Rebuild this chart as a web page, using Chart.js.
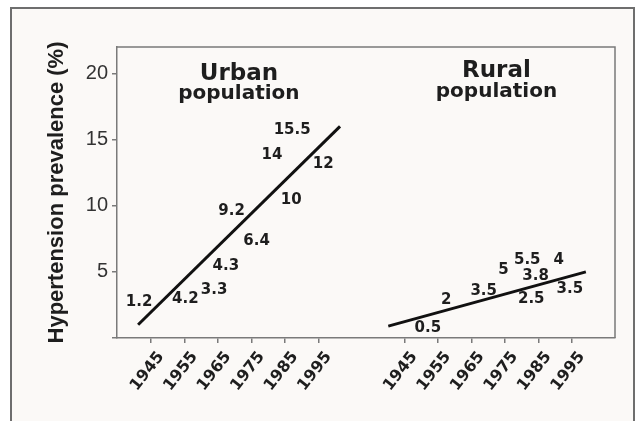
<!DOCTYPE html>
<html>
<head>
<meta charset="utf-8">
<script src="https://cdn.jsdelivr.net/npm/chart.js@4/dist/chart.umd.min.js"></script>
<style>
  html, body { margin: 0; padding: 0; background: #ffffff; }
  #frame {
    position: absolute; left: 10px; top: 7px; width: 625px; height: 420px;
    box-sizing: border-box; background: #fbf9f7;
    border: 2px solid #6e6e6e; border-bottom: none;
  }
  #wrap { position: absolute; left: 0; top: 0; width: 635px; height: 421px; }
</style>
</head>
<body>
<div id="frame"></div>
<div id="wrap"><canvas id="chart" width="635" height="421"></canvas></div>
<script>
const years = [1945, 1955, 1965, 1975, 1985, 1995];
const ruralShift = 75.6; // rural panel sits right of the urban one on the shared x axis
const xMin = 1934.8;
const xMax = 2083.5;
const yTicks = [0, 5, 10, 15, 20];

// printed rates and where each sits (study year, height in %)
const urbanYears = [1941.4, 1955.2, 1963.8, 1967.3, 1976.5, 1969, 1986.8, 1981.1, 1987.1, 1996.4];
const urbanHeights = [2.75, 2.95, 3.6, 5.4, 7.3, 9.6, 10.45, 13.8, 15.7, 13.15];
const urbanRates = ['1.2', '4.2', '3.3', '4.3', '6.4', '9.2', '10', '14', '15.5', '12'];

const ruralYears = [1952, 1957.5, 1968.7, 1974.6, 1981.7, 1991.1, 1984.2, 1982.9, 1994.4];
const ruralHeights = [0.73, 2.83, 3.58, 5.15, 5.9, 5.86, 4.7, 2.93, 3.69];
const ruralRates = ['0.5', '2', '3.5', '5', '5.5', '4', '3.8', '2.5', '3.5'];

const urbanTrendYears = [1941.1, 2001.4];
const urbanTrend = [1.0, 16.0];
const ruralTrendYears = [1940.2, 1999.2];
const ruralTrend = [0.9, 5.0];

const ink = '#1e1e1e';
const axisGrey = '#7a7a7a';

function pts(xs, ys, shift) {
  return xs.map((x, i) => ({ x: x + shift, y: ys[i] }));
}

const tickLabels = {};
years.forEach((y) => {
  tickLabels[y] = String(y);
  tickLabels[(y + ruralShift).toFixed(1)] = String(y);
});

const rateLabels = {
  id: 'rateLabels',
  afterDatasetsDraw(chart) {
    const ctx = chart.ctx;
    ctx.save();
    ctx.fillStyle = ink;
    ctx.font = 'bold 15px "DejaVu Sans"';
    ctx.textAlign = 'center';
    ctx.textBaseline = 'middle';
    chart.data.datasets.forEach((ds, i) => {
      if (!ds.texts) return;
      chart.getDatasetMeta(i).data.forEach((el, j) => {
        ctx.fillText(ds.texts[j], el.x, el.y);
      });
    });
    ctx.restore();
  }
};

const panelBox = {
  id: 'panelBox',
  beforeDatasetsDraw(chart) {
    const { ctx, chartArea: a, scales } = chart;
    ctx.save();
    ctx.strokeStyle = axisGrey;
    ctx.lineWidth = 1.5;
    ctx.beginPath();
    ctx.moveTo(a.left, a.top);
    ctx.lineTo(a.right, a.top);
    ctx.lineTo(a.right, a.bottom);
    ctx.stroke();

    // panel headings
    ctx.fillStyle = ink;
    ctx.textAlign = 'center';
    ctx.textBaseline = 'alphabetic';
    const ux = scales.x.getPixelForValue(1971.2);
    const rx = scales.x.getPixelForValue(1972.5 + ruralShift);
    ctx.font = 'bold 23px "DejaVu Sans"';
    ctx.fillText('Urban', ux, a.top + 33);
    ctx.fillText('Rural', rx, a.top + 30);
    ctx.font = 'bold 20px "DejaVu Sans"';
    ctx.fillText('population', ux, a.top + 52);
    ctx.fillText('population', rx, a.top + 50);
    ctx.restore();
  }
};

new Chart(document.getElementById('chart'), {
  type: 'scatter',
  data: {
    datasets: [
      { data: pts(urbanYears, urbanHeights, 0), texts: urbanRates, pointRadius: 0 },
      { data: pts(ruralYears, ruralHeights, ruralShift), texts: ruralRates, pointRadius: 0 },
      { data: pts(urbanTrendYears, urbanTrend, 0), showLine: true, borderColor: '#111', borderWidth: 3, pointRadius: 0 },
      { data: pts(ruralTrendYears, ruralTrend, ruralShift), showLine: true, borderColor: '#111', borderWidth: 3, pointRadius: 0 }
    ]
  },
  options: {
    responsive: false,
    animation: false,
    layout: { padding: { top: 47, right: 20, left: 0, bottom: 0 } },
    plugins: { legend: { display: false }, tooltip: { enabled: false } },
    scales: {
      x: {
        type: 'linear',
        min: xMin,
        max: xMax,
        afterBuildTicks: (s) => {
          s.ticks = years.map((y) => ({ value: y }))
            .concat(years.map((y) => ({ value: +(y + ruralShift).toFixed(1) })));
        },
        afterFit: (s) => { s.height = 83; },
        grid: { drawOnChartArea: false, drawTicks: true, tickLength: 5, color: axisGrey, lineWidth: 1.5 },
        border: { color: axisGrey, width: 1.5 },
        ticks: {
          color: ink,
          font: { family: 'DejaVu Sans', size: 16, weight: 'bold' },
          minRotation: 52,
          maxRotation: 52,
          labelOffset: 10,
          padding: 5,
          autoSkip: false,
          callback: (v) => tickLabels[v.toFixed(1)] || tickLabels[v] || ''
        }
      },
      y: {
        min: 0,
        max: 22,
        afterBuildTicks: (s) => { s.ticks = yTicks.map((v) => ({ value: v })); },
        afterFit: (s) => { s.width = 117; },
        grid: { drawOnChartArea: false, drawTicks: true, tickLength: 5, color: axisGrey, lineWidth: 1.5 },
        border: { color: axisGrey, width: 1.5 },
        ticks: {
          color: '#333',
          font: { family: 'Liberation Sans', size: 20 },
          padding: 4,
          callback: (v) => (v === 0 ? '' : v)
        },
        title: {
          display: true,
          text: 'Hypertension prevalence (%)',
          color: ink,
          font: { family: 'Liberation Sans', size: 22, weight: 'bold' },
          padding: { top: 44, bottom: 0 }
        }
      }
    }
  },
  plugins: [panelBox, rateLabels]
});
</script>
</body>
</html>
